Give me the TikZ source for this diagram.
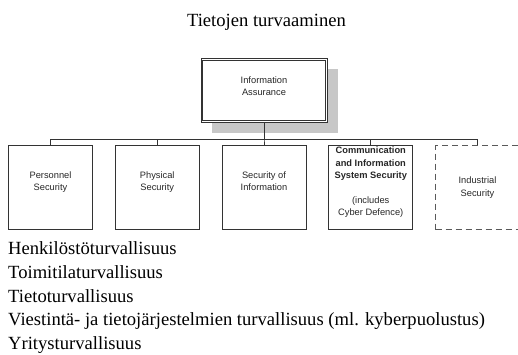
\documentclass[tikz,border=0pt]{standalone}
\usepackage{fontspec}
\setmainfont{Liberation Serif}
\newfontfamily\arialfont{Liberation Sans}
\usetikzlibrary{trees,shadows}

\tikzset{
  unitbox/.style={draw=black!80, line width=0.8pt, minimum width=84pt, minimum height=84pt, inner sep=0pt, align=center, text=black!85, font=\arialfont\fontsize{9.3}{12.3}\selectfont},
  topbox/.style={unitbox, fill=white, minimum width=126pt, minimum height=64pt, drop shadow={shadow xshift=11pt, shadow yshift=-10pt, fill=black!22, opacity=1}},
  innerframe/.style={draw=black!80, line width=0.7pt},
  dashedbox/.style={draw=black!65, dash pattern=on 6pt off 4pt},
  plainline/.style={inner sep=0pt, font=\fontsize{18.6}{22}\selectfont},
  listline/.style={plainline, anchor=base west}
}

\begin{document}
\begin{tikzpicture}[x=1pt, y=-1pt, level distance=97pt, sibling distance=106.75pt, edge from parent/.style={draw=black!80, line width=0.8pt}, edge from parent path={(\tikzparentnode.south) -- ++(0pt,-16pt) -| (\tikzchildnode.north)}]
\useasboundingbox (0,0) rectangle (518,354);
\node[plainline, anchor=base] (title) at (266.5,26) {Tietojen turvaaminen};
\node[topbox] (ia) at (264,90.5) {Information\\Assurance\\[-3pt]\mbox{}}
    child { node[unitbox] (personnel) {Personnel\\Security\\\mbox{}} }
    child { node[unitbox] (physical) {Physical\\Security\\\mbox{}} }
    child { node[unitbox] (secinfo) {Security of\\Information\\\mbox{}} }
    child { node[unitbox] (cis) {\textbf{Communication}\\\textbf{and Information}\\\textbf{System Security}\\\mbox{}\\(includes\\Cyber Defence)\\\mbox{}} }
    child { node[unitbox, dashedbox] (industrial) {Industrial\\Security} }
;
% second line of the framed top box
\draw[innerframe] ([xshift=2.2pt,yshift=-2.2pt]ia.north west) rectangle ([xshift=-2.2pt,yshift=2.2pt]ia.south east);
\node[listline] (henkilo) at (8,254) {Henkilöstöturvallisuus};
\node[listline] (toimitila) at (8,278) {Toimitilaturvallisuus};
\node[listline] (tieto) at (8,302) {Tietoturvallisuus};
\node[listline] (viestinta) at (8,325.5) {Viestintä- ja tietojärjestelmien turvallisuus (ml. kyberpuolustus)};
\node[listline] (yritys) at (8,349) {Yritysturvallisuus};
\end{tikzpicture}
\end{document}
